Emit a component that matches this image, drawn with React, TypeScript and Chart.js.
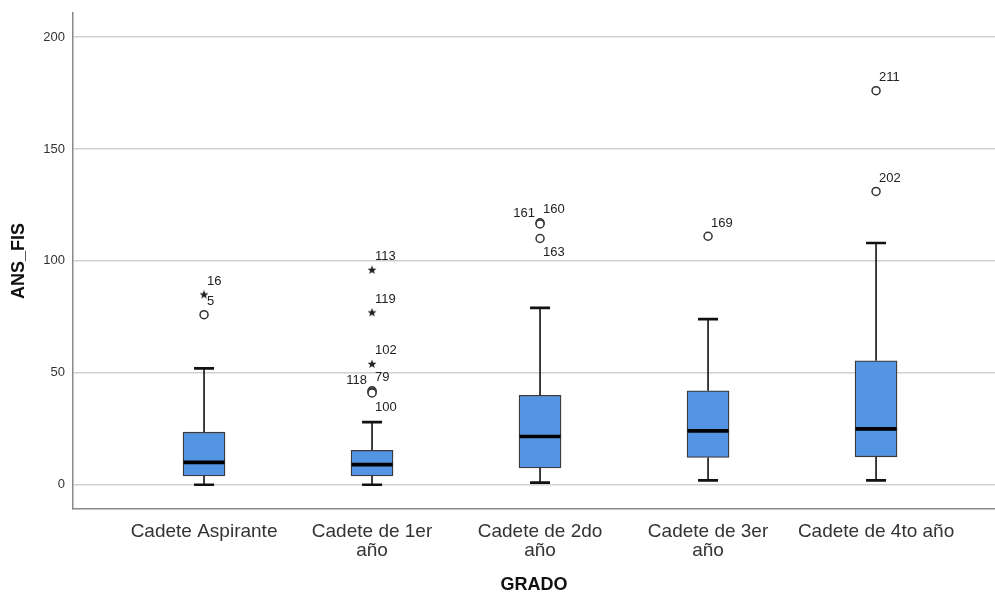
import React, { useEffect, useRef } from "react";
import { Chart, registerables } from "chart.js";

Chart.register(...registerables);

// ---------- data ----------
const categories: string[][] = [
  ["Cadete Aspirante"],
  ["Cadete de 1er", "año"],
  ["Cadete de 2do", "año"],
  ["Cadete de 3er", "año"],
  ["Cadete de 4to año"],
];
const whiskerLow = [0, 0, 1, 2, 2];
const q1 = [4, 4, 7.5, 12.2, 12.5];
const medians = [10, 9, 21.6, 24.1, 25];
const q3 = [23.5, 15.4, 40, 42, 55.4];
const whiskerHigh = [52, 28, 79, 74, 108];

// outliers (circle) : category index (1-based), value, case id
const circleGroup = [1, 2, 2, 2, 3, 3, 3, 4, 5, 5];
const circleValues = [76, 42, 41.5, 41, 117, 116.5, 110, 111, 176, 131];
const circleIds = ["5", "79", "118", "100", "160", "161", "163", "169", "211", "202"];

// extreme outliers (star)
const starGroup = [1, 2, 2, 2];
const starValues = [85, 96, 77, 54];
const starIds = ["16", "113", "119", "102"];

const yTicks = [0, 50, 100, 150, 200];

// ---------- styles ----------
const circleLabelSide = ["ne", "ne", "nw", "se", "ne", "nw", "se", "ne", "ne", "ne"];
const starLabelSide = ["ne", "ne", "ne", "ne"];
const FONT = "Arial, 'Liberation Sans', sans-serif";
const BOX_FILL = "#5394E3";
const BOX_EDGE = "#3a3a3a";

function makeStar(): HTMLCanvasElement {
  const c = document.createElement("canvas");
  c.width = 10;
  c.height = 10;
  const g = c.getContext("2d")!;
  g.fillStyle = "#222";
  g.beginPath();
  const cx = 5, cy = 5.3, ro = 4.7, ri = 2.0;
  for (let i = 0; i < 10; i++) {
    const r = i % 2 === 0 ? ro : ri;
    const a = -Math.PI / 2 + (i * Math.PI) / 5;
    const px = cx + r * Math.cos(a);
    const py = cy + r * Math.sin(a);
    if (i === 0) g.moveTo(px, py);
    else g.lineTo(px, py);
  }
  g.closePath();
  g.fill();
  return c;
}

const boxPlugin = {
  id: "boxWhiskers",
  beforeDatasetsDraw(chart: any) {
    const { ctx, scales } = chart;
    const xs = scales.x, ys = scales.y;
    ctx.save();
    ctx.strokeStyle = "#111";
    for (let i = 0; i < q1.length; i++) {
      const x = xs.getPixelForValue(i + 1);
      const yLo = ys.getPixelForValue(whiskerLow[i]);
      const yQ1 = ys.getPixelForValue(q1[i]);
      const yQ3 = ys.getPixelForValue(q3[i]);
      const yHi = ys.getPixelForValue(whiskerHigh[i]);
      ctx.lineWidth = 1.6;
      ctx.beginPath();
      ctx.moveTo(x, yQ1);
      ctx.lineTo(x, yLo);
      ctx.moveTo(x, yQ3);
      ctx.lineTo(x, yHi);
      ctx.stroke();
      ctx.lineWidth = 2.6;
      ctx.beginPath();
      ctx.moveTo(x - 10, yLo);
      ctx.lineTo(x + 10, yLo);
      ctx.moveTo(x - 10, yHi);
      ctx.lineTo(x + 10, yHi);
      ctx.stroke();
    }
    ctx.restore();
  },
  afterDatasetDraw(chart: any, args: any) {
    if (args.index !== 0) return;
    const { ctx, scales } = chart;
    ctx.save();
    ctx.strokeStyle = "#000";
    ctx.lineWidth = 3.6;
    for (let i = 0; i < medians.length; i++) {
      const x = scales.x.getPixelForValue(i + 1);
      const y = scales.y.getPixelForValue(medians[i]);
      ctx.beginPath();
      ctx.moveTo(x - 20.5, y);
      ctx.lineTo(x + 20.5, y);
      ctx.stroke();
    }
    ctx.restore();
  },
  afterDatasetsDraw(chart: any) {
    const { ctx } = chart;
    ctx.save();
    ctx.font = `13px ${FONT}`;
    ctx.fillStyle = "#222";
    ctx.textBaseline = "middle";
    const drawSet = (dsIndex: number, ids: string[], sides: string[]) => {
      const meta = chart.getDatasetMeta(dsIndex);
      meta.data.forEach((el: any, j: number) => {
        const side = sides[j];
        let tx = el.x + 3, ty = el.y - 13;
        ctx.textAlign = "left";
        if (side === "nw") {
          ctx.textAlign = "right";
          tx = el.x - 5;
          ty = el.y - 11;
        } else if (side === "se") {
          tx = el.x + 3;
          ty = el.y + 14;
        }
        ctx.fillText(ids[j], tx, ty);
      });
    };
    drawSet(1, circleIds, circleLabelSide);
    drawSet(2, starIds, starLabelSide);
    ctx.restore();
  },
};

export default function App() {
  const ref = useRef<HTMLCanvasElement | null>(null);
  useEffect(() => {
    if (!ref.current) return;
    const star = makeStar();
    const chart = new Chart(ref.current, {
      type: "bar",
      data: {
        datasets: [
          {
            type: "bar",
            data: q1.map((v, i) => ({ x: i + 1, y: [v, q3[i]] })) as any,
            backgroundColor: BOX_FILL,
            borderColor: BOX_EDGE,
            borderWidth: 1.3,
            borderSkipped: false,
            barThickness: 42,
          } as any,
          {
            type: "scatter",
            data: circleValues.map((v, i) => ({ x: circleGroup[i], y: v })),
            pointStyle: "circle",
            pointRadius: 4,
            pointBackgroundColor: "#fff",
            pointBorderColor: "#333",
            pointBorderWidth: 1.5,
          } as any,
          {
            type: "scatter",
            data: starValues.map((v, i) => ({ x: starGroup[i], y: v })),
            pointStyle: star,
            pointRadius: 5,
          } as any,
        ],
      },
      options: {
        animation: false,
        responsive: false,
        maintainAspectRatio: false,
        events: [],
        layout: { autoPadding: false, padding: { top: 13, right: 0, left: 0, bottom: 0 } },
        plugins: { legend: { display: false }, tooltip: { enabled: false } },
        scales: {
          x: {
            type: "linear",
            min: 0.22,
            max: 5.708,
            offset: false,
            grid: { display: false, drawTicks: false, offset: false },
            border: { display: true, color: "#8a8a8a", width: 1.5 },
            afterBuildTicks: (s: any) => {
              s.ticks = categories.map((_, i) => ({ value: i + 1 }));
            },
            afterFit: (s: any) => {
              s.height = 87;
              s.paddingLeft = 0;
              s.paddingRight = 0;
            },
            ticks: {
              autoSkip: false,
              maxRotation: 0,
              minRotation: 0,
              padding: 13,
              color: "#333",
              font: { family: FONT, size: 19, lineHeight: 1 },
              callback: (v: any) => categories[Math.round(v) - 1] ?? "",
            },
            title: {
              display: true,
              text: "GRADO",
              color: "#111",
              font: { family: FONT, size: 18, weight: "bold" },
              padding: { top: 0, bottom: 0 },
            },
          },
          y: {
            type: "linear",
            min: -10.8,
            max: 210.7,
            afterBuildTicks: (s: any) => {
              s.ticks = yTicks.map((v) => ({ value: v }));
            },
            afterFit: (s: any) => {
              s.width = 73;
              s.paddingTop = 0;
              s.paddingBottom = 0;
            },
            grid: { color: "#d0d0d0", lineWidth: 1.5, drawTicks: false },
            border: { display: true, color: "#8a8a8a", width: 1.5 },
            ticks: {
              padding: 8,
              color: "#333",
              font: { family: FONT, size: 13 },
            },
            title: {
              display: true,
              text: "ANS_FIS",
              color: "#111",
              font: { family: FONT, size: 18, weight: "bold" },
              padding: { top: 8, bottom: 0 },
            },
          },
        },
      } as any,
      plugins: [boxPlugin as any],
    });
    return () => chart.destroy();
  }, []);
  return (
    <div style={{ position: "absolute", left: 0, top: 0, width: 995, height: 596, background: "#fff" }}>
      <canvas ref={ref} width={995} height={596} style={{ display: "block" }} />
    </div>
  );
}
